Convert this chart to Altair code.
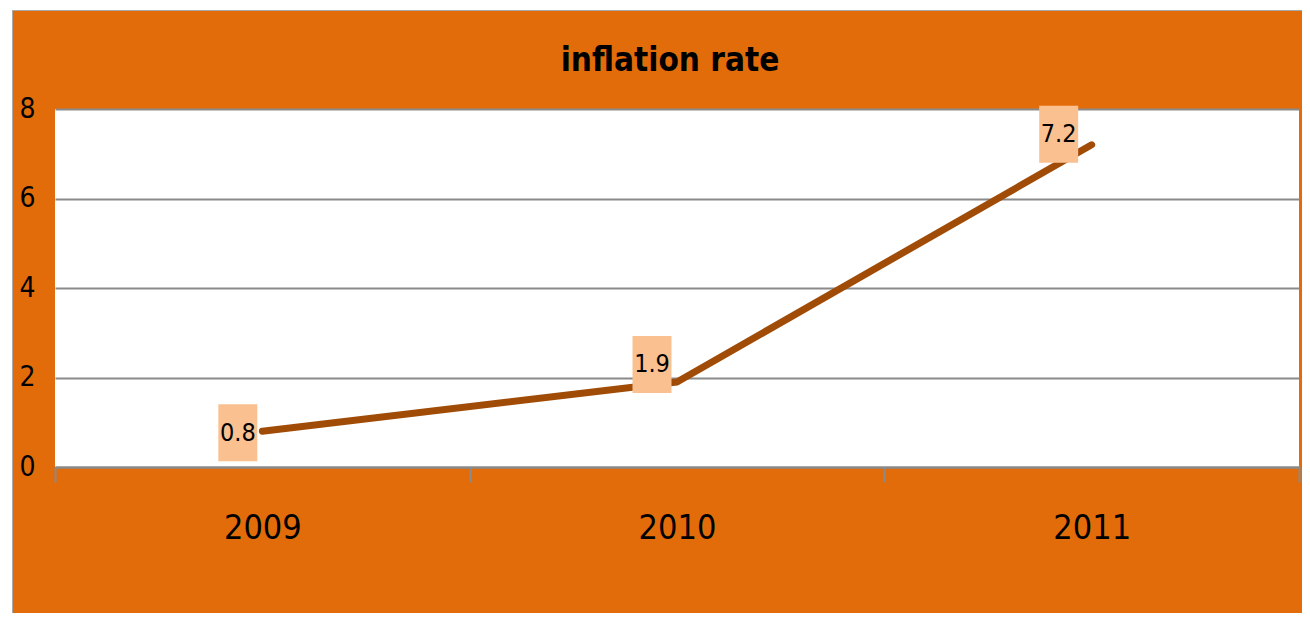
import altair as alt
import pandas as pd

years = ["2009", "2010", "2011"]
values = [0.8, 1.9, 7.2]
y_ticks = [0, 2, 4, 6, 8]
labels = ["0.8", "1.9", "7.2"]

df = pd.DataFrame({"year": years, "value": values, "label": labels})

W, H = 1244, 358
ORANGE = "#E36C0A"
LINE = "#A04B06"
BOX = "#FAC090"
GRID = "#8A8A8A"
FONT = "'DejaVu Sans Condensed', 'DejaVu Sans', sans-serif"

# label placement (pixel offsets from each point), per year
label_offsets = {"2009": (-24.5, 1.5), "2010": (-25, -17.5), "2011": (-33, -10.5)}

x_enc = alt.X(
    "year:N",
    sort=years,
    scale=alt.Scale(type="band", paddingInner=0, paddingOuter=0),
    axis=alt.Axis(
        title=None, labelAngle=0, grid=False,
        domainColor=GRID, domainWidth=2,
        tickColor=GRID, tickWidth=2, tickSize=15, tickBand="extent",
        labelFont=FONT, labelFontSize=34, labelColor="black", labelPadding=29,
    ),
)
y_enc = alt.Y(
    "value:Q",
    scale=alt.Scale(domain=[0, 8], nice=False),
    axis=alt.Axis(
        title=None, values=y_ticks, domain=False, ticks=False,
        grid=True, gridColor=GRID, gridWidth=2,
        labelFont=FONT, labelFontSize=28, labelColor="black",
        labelAlign="center", labelBaseline="middle", labelPadding=28,
    ),
)

base = alt.Chart(df).encode(x=x_enc, y=y_enc)

# page frame decoration (white margin strip + thin grey border)
strip_left = alt.Chart(df).mark_rect(color="white").encode(
    x=alt.value(-47), x2=alt.value(-43), y=alt.value(-101), y2=alt.value(H + 146))
strip_top = alt.Chart(df).mark_rect(color="white").encode(
    x=alt.value(-47), x2=alt.value(W + 3), y=alt.value(-101), y2=alt.value(-99))
border_left = alt.Chart(df).mark_rect(color="#A8A8A8").encode(
    x=alt.value(-43), x2=alt.value(-42), y=alt.value(-99), y2=alt.value(H + 146))
border_top = alt.Chart(df).mark_rect(color="#A8A8A8").encode(
    x=alt.value(-43), x2=alt.value(W + 3), y=alt.value(-99), y2=alt.value(-98))

line = base.mark_line(color=LINE, strokeWidth=7, strokeCap="round", strokeJoin="round")

box_shape = "M-0.684,-1H0.684V1H-0.684Z"
label_layers = []
for yr in years:
    dx, dy = label_offsets[yr]
    sub = base.transform_filter(alt.datum.year == yr)
    label_layers.append(
        sub.mark_point(shape=box_shape, size=57 * 57, filled=True, fill=BOX,
                       opacity=1, strokeWidth=0, xOffset=dx, yOffset=dy)
    )
    label_layers.append(
        sub.mark_text(font=FONT, fontSize=25, color="black", dx=dx, dy=dy,
                      baseline="middle", align="center").encode(text="label:N")
    )

chart = alt.layer(
    strip_left, strip_top, border_left, border_top, line, *label_layers
).properties(
    width=W, height=H,
    title=alt.TitleParams(
        "inflation rate", font=FONT, fontSize=33, fontWeight="bold", color="black",
        anchor="middle", frame="group", offset=0, baseline="alphabetic", dy=96, dx=-7,
    ),
    autosize=alt.AutoSizeParams(type="none"),
    padding={"left": 47, "top": 101, "right": 3, "bottom": 146},
    background=ORANGE,
).configure_view(fill="white", stroke=None)

chart.save("out.html", embed_options={"renderer": "svg", "actions": False})
